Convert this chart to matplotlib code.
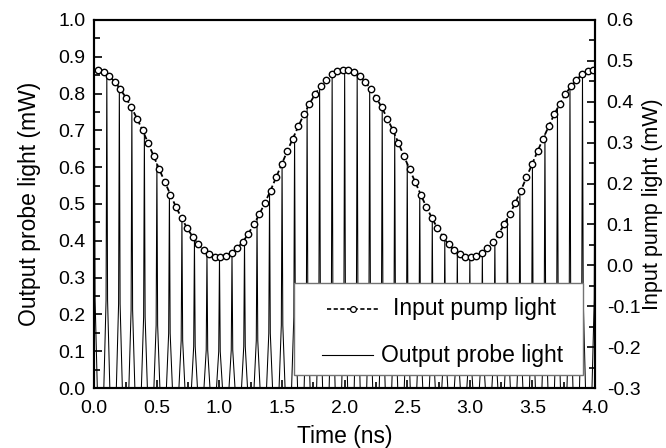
import numpy as np
import matplotlib
matplotlib.use("Agg")
import matplotlib.pyplot as plt
from matplotlib.patches import Rectangle

plt.rcParams['font.family'] = ['Liberation Sans', 'DejaVu Sans']

# pulse train of the output probe light (left axis, mW)
pulse_times = [0.0, 0.1, 0.2, 0.3, 0.4, 0.5, 0.6, 0.7, 0.8, 0.9,
               1.0, 1.1, 1.2, 1.3, 1.4, 1.5, 1.6, 1.7, 1.8, 1.9,
               2.0, 2.1, 2.2, 2.3, 2.4, 2.5, 2.6, 2.7, 2.8, 2.9,
               3.0, 3.1, 3.2, 3.3, 3.4, 3.5, 3.6, 3.7, 3.8, 3.9, 4.0]
pulse_peaks = [0.865, 0.853, 0.816, 0.760, 0.689, 0.610, 0.531, 0.460, 0.404, 0.367,
               0.355, 0.367, 0.404, 0.460, 0.531, 0.610, 0.689, 0.760, 0.816, 0.853,
               0.865, 0.853, 0.816, 0.760, 0.689, 0.610, 0.531, 0.460, 0.404, 0.367,
               0.355, 0.367, 0.404, 0.460, 0.531, 0.610, 0.689, 0.760, 0.816, 0.853, 0.865]

# input pump light (right axis, mW)
pump_t = [0.030, 0.074, 0.119, 0.163, 0.208, 0.252, 0.297, 0.341, 0.386, 0.430,
          0.474, 0.519, 0.563, 0.608, 0.652, 0.697, 0.741, 0.786, 0.830, 0.874,
          0.919, 0.963, 1.008, 1.052, 1.097, 1.141, 1.186, 1.230, 1.274, 1.319,
          1.363, 1.408, 1.452, 1.497, 1.541, 1.586, 1.630, 1.674, 1.719, 1.763,
          1.808, 1.852, 1.897, 1.941, 1.986,
          2.030, 2.074, 2.119, 2.163, 2.208, 2.252, 2.297, 2.341, 2.386, 2.430,
          2.474, 2.519, 2.563, 2.608, 2.652, 2.697, 2.741, 2.786, 2.830, 2.874,
          2.919, 2.963, 3.008, 3.052, 3.097, 3.141, 3.186, 3.230, 3.274, 3.319,
          3.363, 3.408, 3.452, 3.497, 3.541, 3.586, 3.630, 3.674, 3.719, 3.763,
          3.808, 3.852, 3.897, 3.941, 3.986]
pump_p = [0.478, 0.472, 0.463, 0.449, 0.431, 0.410, 0.386, 0.359, 0.330, 0.299,
          0.267, 0.235, 0.204, 0.173, 0.143, 0.116, 0.091, 0.070, 0.051, 0.037,
          0.027, 0.021, 0.020, 0.023, 0.030, 0.042, 0.057, 0.077, 0.100, 0.125,
          0.153, 0.183, 0.215, 0.247, 0.279, 0.310, 0.340, 0.369, 0.395, 0.418,
          0.438, 0.454, 0.467, 0.475, 0.478,
          0.478, 0.472, 0.463, 0.449, 0.431, 0.410, 0.386, 0.359, 0.330, 0.299,
          0.267, 0.235, 0.204, 0.173, 0.143, 0.116, 0.091, 0.070, 0.051, 0.037,
          0.027, 0.021, 0.020, 0.023, 0.030, 0.042, 0.057, 0.077, 0.100, 0.125,
          0.153, 0.183, 0.215, 0.247, 0.279, 0.310, 0.340, 0.369, 0.395, 0.418,
          0.438, 0.454, 0.467, 0.475, 0.478]

labels = ['Input pump light', 'Output probe light']

# shape of one pulse (offset in ns, fraction of peak)
shape_dt = np.array([-0.024, -0.006, 0.0, 0.006, 0.024])
shape_f = np.array([0.0, 0.28, 1.0, 0.28, 0.0])
probe_x = np.concatenate([t + shape_dt for t in pulse_times])
probe_y = np.concatenate([p * shape_f for p in pulse_peaks])

fig = plt.figure(figsize=(6.66, 4.48), dpi=100)
ax = fig.add_axes([0.1416, 0.1339, 0.7518, 0.8215])
ax2 = ax.twinx()

ax.plot(probe_x, probe_y, color='black', lw=0.75)
ax2.plot(pump_t, pump_p, color='black', lw=1.3, ls=(0, (3, 1.5)),
         marker='o', ms=4.6, mfc='white', mec='black', mew=1.0)

ax.set_xlim(0, 4)
ax.set_ylim(0, 1.0)
ax2.set_ylim(-0.3, 0.6)
ax.set_xticks(np.arange(0, 4.01, 0.5))
ax.set_xticks(np.arange(0, 4.01, 0.25), minor=True)
ax.set_yticks(np.arange(0, 1.01, 0.1))
ax.set_yticks(np.arange(0, 1.01, 0.05), minor=True)
ax2.set_yticks(np.arange(-0.3, 0.61, 0.1))
ax2.set_yticks(np.arange(-0.3, 0.61, 0.05), minor=True)
ax.xaxis.set_major_formatter(plt.FormatStrFormatter('%.1f'))
ax.yaxis.set_major_formatter(plt.FormatStrFormatter('%.1f'))
ax2.yaxis.set_major_formatter(plt.FormatStrFormatter('%.1f'))

for a in (ax, ax2):
    for s in a.spines.values():
        s.set_linewidth(1.5)
ax.tick_params(which='both', direction='in', top=False, right=False, width=1.2, labelsize=14)
ax.tick_params(which='major', length=6)
ax.tick_params(which='minor', length=4)
ax.tick_params(axis='x', pad=8.5)
ax.tick_params(axis='y', pad=6.5)
ax2.tick_params(which='both', direction='in', width=1.2, labelsize=14, pad=8.4)
ax2.tick_params(which='major', length=6)
ax2.tick_params(which='minor', length=4)

ax.set_xlabel('Time (ns)', fontsize=16.5, labelpad=6)
ax.set_ylabel('Output probe light (mW)', fontsize=16.5, labelpad=12)
ax2.set_ylabel('Input pump light (mW)', fontsize=15.5, labelpad=1.5)

# legend box drawn by hand (Origin-style layout)
tr = ax2.transAxes
ax2.add_patch(Rectangle((0.399, 0.035), 0.577, 0.250, transform=tr,
                        facecolor='white', edgecolor='0.45', lw=1.0, zorder=5))
ax2.plot([0.465, 0.570], [0.215, 0.215], transform=tr, color='black', lw=1.2,
         ls=(0, (2.5, 1.5)), zorder=6)
ax2.plot([0.5175], [0.215], transform=tr, ls='none', marker='o', ms=4.2,
         mfc='white', mec='black', mew=0.9, zorder=7)
ax2.text(0.5965, 0.215, labels[0], transform=tr, fontsize=16.5,
         va='center', ha='left', zorder=7)
ax2.plot([0.455, 0.5565], [0.0897, 0.0897], transform=tr, color='black',
         lw=0.8, zorder=6)
ax2.text(0.5726, 0.0897, labels[1], transform=tr, fontsize=16.5,
         va='center', ha='left', zorder=7)

fig.savefig('out.png', dpi=100)
